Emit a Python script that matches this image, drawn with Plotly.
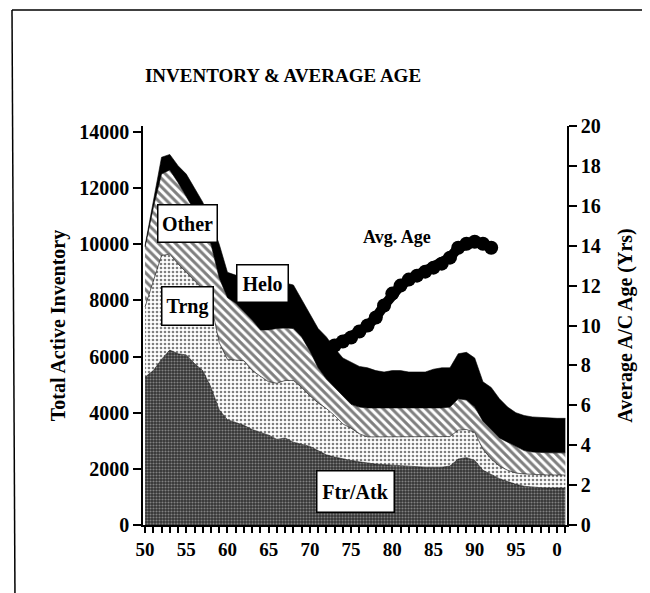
import plotly.graph_objects as go

years = list(range(1950, 2002))

# cumulative tops of the stacked areas
ftr_top = [5270, 5500, 5900, 6230, 6100, 6060, 5750, 5500, 4900, 4100,
           3750, 3650, 3550, 3400, 3300, 3200, 3050, 3100, 2950, 2870,
           2800, 2650, 2500, 2420, 2350, 2300, 2250, 2200, 2170, 2150,
           2130, 2120, 2100, 2080, 2060, 2060, 2060, 2100, 2350, 2400,
           2300, 1950, 1800, 1650, 1550, 1450, 1380, 1350, 1330, 1320,
           1320, 1320]
trng_top = [7770, 8700, 9600, 9650, 9300, 9000, 8700, 8400, 7900, 6500,
            5900, 5880, 5850, 5500, 5300, 5100, 5050, 5150, 5150, 4900,
            4600, 4350, 4150, 3900, 3600, 3450, 3250, 3140, 3140, 3140,
            3140, 3140, 3130, 3130, 3130, 3130, 3140, 3150, 3380, 3400,
            3300, 2700, 2350, 2100, 1950, 1850, 1820, 1800, 1790, 1780,
            1780, 1780]
other_top = [9900, 11300, 12500, 12650, 12200, 11700, 11200, 10700, 10000, 8800,
             8100, 7900, 7600, 7300, 6950, 6950, 7000, 7020, 7000, 6700,
             6200, 5600, 5200, 4900, 4600, 4300, 4200, 4170, 4170, 4170,
             4170, 4170, 4170, 4170, 4170, 4170, 4170, 4200, 4500, 4450,
             4200, 3700, 3400, 3100, 2950, 2800, 2650, 2600, 2580, 2570,
             2570, 2570]
helo_top = [9950, 11600, 13100, 13200, 12800, 12500, 12000, 11500, 10800, 10000,
            9000, 8900, 8800, 8700, 8700, 8700, 8650, 8620, 8550, 8020,
            7500, 7000, 6700, 6300, 5950, 5800, 5650, 5600, 5500, 5450,
            5500, 5500, 5450, 5450, 5450, 5550, 5600, 5600, 6100, 6150,
            5950, 5100, 4900, 4500, 4200, 4000, 3900, 3850, 3830, 3810,
            3800, 3800]

age_years = list(range(1973, 1993))
avg_age = [9.0, 9.2, 9.4, 9.7, 10.0, 10.4, 11.0, 11.6, 12.0, 12.3,
           12.5, 12.7, 12.9, 13.1, 13.4, 13.9, 14.1, 14.2, 14.1, 13.9]

x_tickvals = [1950, 1955, 1960, 1965, 1970, 1975, 1980, 1985, 1990, 1995, 2000]
x_ticktext = ["50", "55", "60", "65", "70", "75", "80", "85", "90", "95", "0"]
y_tickvals = [0, 2000, 4000, 6000, 8000, 10000, 12000, 14000]
y_ticktext = ["0", "2000", "4000", "6000", "8000", "10000", "12000", "14000"]
y2_tickvals = list(range(0, 21, 2))

FONT = "Liberation Serif"

fig = go.Figure()
fig.add_trace(go.Scatter(
    x=years, y=ftr_top, mode="lines", fill="tozeroy",
    line=dict(color="black", width=0.6),
    fillcolor="#333333",
    fillpattern=dict(shape=".", bgcolor="#333333", fgcolor="#d0d0d0", size=3, solidity=0.4),
    hoverinfo="skip"))
fig.add_trace(go.Scatter(
    x=years, y=trng_top, mode="lines", fill="tonexty",
    line=dict(color="black", width=0.6),
    fillcolor="white",
    fillpattern=dict(shape=".", bgcolor="white", fgcolor="black", size=4, solidity=0.35),
    hoverinfo="skip"))
fig.add_trace(go.Scatter(
    x=years, y=other_top, mode="lines", fill="tonexty",
    line=dict(color="black", width=0.6),
    fillcolor="white",
    fillpattern=dict(shape="\\", bgcolor="white", fgcolor="black", size=6, solidity=0.5),
    hoverinfo="skip"))
fig.add_trace(go.Scatter(
    x=years, y=helo_top, mode="lines", fill="tonexty",
    line=dict(color="black", width=0.6),
    fillcolor="black",
    hoverinfo="skip"))
fig.add_trace(go.Scatter(
    x=age_years, y=avg_age, yaxis="y2", mode="lines+markers",
    line=dict(color="black", width=10),
    marker=dict(color="black", size=14),
    hoverinfo="skip"))

label_font = dict(family=FONT, size=20, color="black", weight="bold")
boxes = [("Other", 1955.1, 10740, 58, 36),
         ("Trng", 1955.1, 7800, 50, 37),
         ("Helo", 1964.2, 8620, 50, 36),
         ("Ftr/Atk", 1975.5, 1210, 76, 40)]
annotations = []
for txt, xv, yv, w, h in boxes:
    annotations.append(dict(x=xv, y=yv, xref="x", yref="y", text=txt, showarrow=False,
                            font=label_font, bgcolor="white", bordercolor="black",
                            borderwidth=1.5, width=w, height=h, borderpad=0))
annotations.append(dict(x=1980.6, y=10260, xref="x", yref="y", text="Avg. Age",
                        showarrow=False, font=dict(family=FONT, size=18, color="black", weight="bold")))

# page body has an 8px margin: figure drawn at (8,8)
W, H = 642, 585
fig.update_layout(
    width=W, height=H,
    margin=dict(l=135, r=W - 135 - 424, t=118, b=H - 118 - 399),
    paper_bgcolor="white", plot_bgcolor="white",
    showlegend=False,
    font=dict(family=FONT, size=20, color="black", weight="bold"),
    title=dict(text="INVENTORY & AVERAGE AGE", x=(283 - 8) / W, xanchor="center",
               y=1 - 67 / H, yanchor="middle",
               font=dict(family=FONT, size=19, color="black", weight="bold")),
    xaxis=dict(range=[1949.75, 2001.2], tickvals=x_tickvals, ticktext=x_ticktext,
               showline=True, linecolor="black", linewidth=1.5, ticks="outside",
               ticklen=6, tickwidth=1.5, tickcolor="black", showgrid=False, zeroline=False,
               tickfont=dict(size=19),
               minor=dict(tickmode="linear", tick0=1950, dtick=1, ticks="outside",
                          ticklen=6, tickwidth=1.5, tickcolor="black", showgrid=False)),
    yaxis=dict(range=[0, 14214], tickvals=y_tickvals, ticktext=y_ticktext,
               showline=True, linecolor="black", linewidth=1.5, ticks="outside",
               ticklen=8, tickwidth=1.5, tickcolor="black", showgrid=False, zeroline=False,
               tickfont=dict(size=20),
               title=dict(text="Total Active Inventory", standoff=8,
                          font=dict(family=FONT, size=20, weight="bold"))),
    yaxis2=dict(range=[0, 20], tickvals=y2_tickvals, overlaying="y", side="right",
                showline=True, linecolor="black", linewidth=1.5, ticks="outside",
                ticklen=8, tickwidth=1.5, tickcolor="black", showgrid=False, zeroline=False,
                tickfont=dict(size=20),
                title=dict(text="Average A/C Age (Yrs)", standoff=18,
                           font=dict(family=FONT, size=20, weight="bold"))),
    annotations=annotations,
    shapes=[
        dict(type="line", xref="paper", yref="paper", x0=(12 - 143) / 424, x1=(660 - 143) / 424,
             y0=(525 - 10) / 399, y1=(525 - 10) / 399, line=dict(color="black", width=1.5)),
        dict(type="line", xref="paper", yref="paper", x0=(12 - 143) / 424, x1=(15 - 143) / 424,
             y0=(525 - 10) / 399, y1=(525 - 600) / 399, line=dict(color="black", width=1.5)),
    ],
)

fig.write_html("out.html")
